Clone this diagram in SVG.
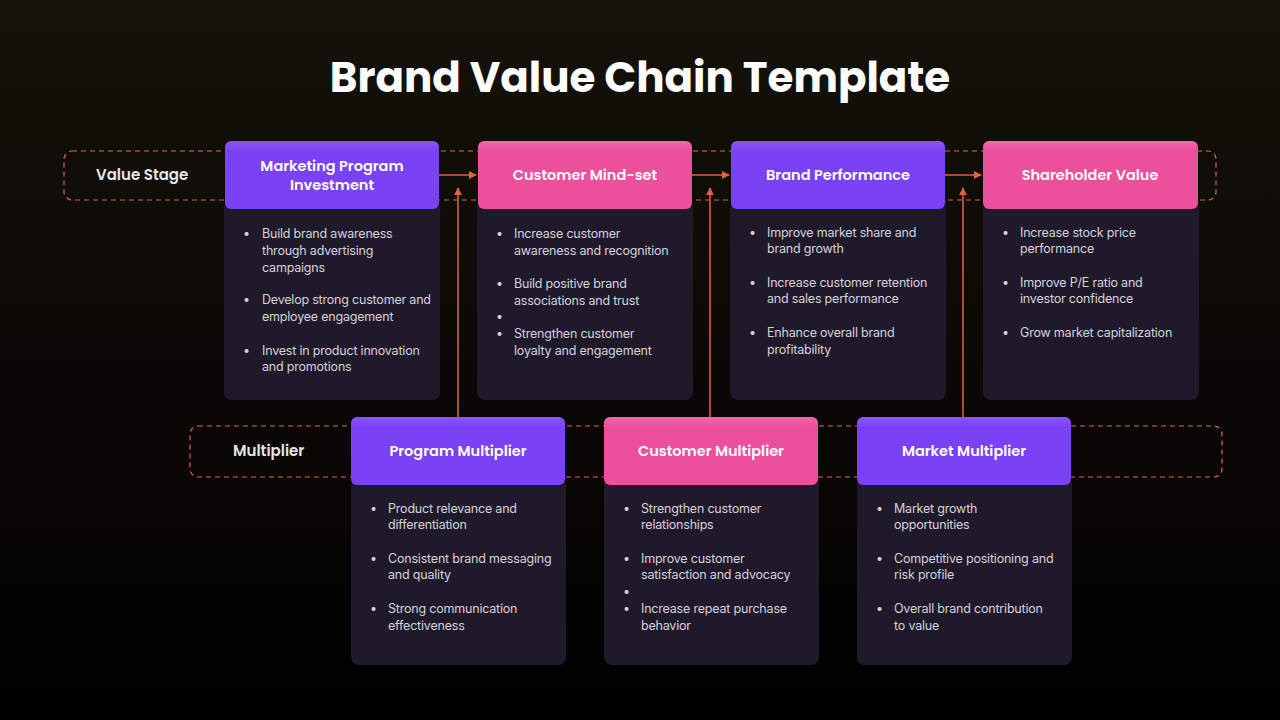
<svg xmlns="http://www.w3.org/2000/svg" width="1280" height="720" viewBox="0 0 1280 720">
<defs>
<linearGradient id="bg" x1="0" y1="0" x2="0" y2="1"><stop offset="0" stop-color="#15120a"/><stop offset="1" stop-color="#000"/></linearGradient>
<linearGradient id="pu" x1="0" y1="0" x2="0" y2="1"><stop offset="0" stop-color="#8a55f7"/><stop offset="0.15" stop-color="#7a42f4"/><stop offset="1" stop-color="#7a42f4"/></linearGradient>
<linearGradient id="pk" x1="0" y1="0" x2="0" y2="1"><stop offset="0" stop-color="#f06aa8"/><stop offset="0.15" stop-color="#ec4f9c"/><stop offset="1" stop-color="#ec4f9c"/></linearGradient>
<marker id="ar" viewBox="0 0 10 10" refX="9" refY="5" markerWidth="8" markerHeight="8" orient="auto-start-reverse" markerUnits="userSpaceOnUse"><path d="M0,0 L10,5 L0,10 z" fill="#e8603a"/></marker>
</defs>
<style>
.band{fill:none;stroke:#e0673f;stroke-width:1.2;stroke-dasharray:5 4}
.body{fill:#1f1a2a}
.ht{font-family:Poppins,"Open Sans","Liberation Sans",sans-serif;font-weight:600;font-size:14.5px;fill:#fff;text-anchor:middle}
.lb{font-family:Poppins,"Open Sans","Liberation Sans",sans-serif;font-weight:600;font-size:15px;fill:#e6e6e6}
.bt{font-family:Inter,"Liberation Sans",sans-serif;font-size:12.5px;fill:#d5d2dc;letter-spacing:-0.2px}
.cn{stroke:#e8603a;stroke-width:1.5;fill:none}
</style>
<rect width="1280" height="720" fill="url(#bg)"/>
<text x="640" y="92" text-anchor="middle" font-family="Poppins,'Open Sans','Liberation Sans',sans-serif" font-weight="700" font-size="42" fill="#fff">Brand Value Chain Template</text>
<rect class="band" x="64" y="151" width="1152" height="49" rx="8"/>
<rect class="band" x="190" y="426" width="1032" height="51" rx="8"/>
<text class="lb" x="96" y="180">Value Stage</text>
<text class="lb" x="233" y="456">Multiplier</text>
<g id="connectors">
<line class="cn" x1="439" y1="175" x2="476" y2="175" marker-end="url(#ar)"/>
<line class="cn" x1="692" y1="175" x2="729" y2="175" marker-end="url(#ar)"/>
<line class="cn" x1="945" y1="175" x2="981" y2="175" marker-end="url(#ar)"/>
<line class="cn" x1="458" y1="417" x2="458" y2="188" marker-end="url(#ar)"/>
<line class="cn" x1="710" y1="417" x2="710" y2="188" marker-end="url(#ar)"/>
<line class="cn" x1="963" y1="417" x2="963" y2="188" marker-end="url(#ar)"/>
</g>
<g id="n1"><rect class="body" x="224" y="200" width="216" height="200" rx="8"/><rect x="225" y="141" width="214" height="68" rx="6" fill="url(#pu)"/>
<text class="ht" x="332" y="171">Marketing Program</text><text class="ht" x="332" y="190">Investment</text>
<text class="bt"><tspan x="243" y="238">•</tspan><tspan x="262" y="238">Build brand awareness</tspan><tspan x="262" y="255">through advertising</tspan><tspan x="262" y="272">campaigns</tspan><tspan x="243" y="304">•</tspan><tspan x="262" y="304">Develop strong customer and</tspan><tspan x="262" y="321">employee engagement</tspan><tspan x="243" y="355">•</tspan><tspan x="262" y="355">Invest in product innovation</tspan><tspan x="262" y="371">and promotions</tspan></text></g>
<g id="n2"><rect class="body" x="477" y="200" width="216" height="200" rx="8"/><rect x="478" y="141" width="214" height="68" rx="6" fill="url(#pk)"/>
<text class="ht" x="585" y="180">Customer Mind-set</text>
<text class="bt"><tspan x="496" y="238">•</tspan><tspan x="514" y="238">Increase customer</tspan><tspan x="514" y="255">awareness and recognition</tspan><tspan x="496" y="288">•</tspan><tspan x="514" y="288">Build positive brand</tspan><tspan x="514" y="305">associations and trust</tspan><tspan x="496" y="321">•</tspan><tspan x="496" y="338">•</tspan><tspan x="514" y="338">Strengthen customer</tspan><tspan x="514" y="355">loyalty and engagement</tspan></text></g>
<g id="n3"><rect class="body" x="730" y="200" width="216" height="200" rx="8"/><rect x="731" y="141" width="214" height="68" rx="6" fill="url(#pu)"/>
<text class="ht" x="838" y="180">Brand Performance</text>
<text class="bt"><tspan x="749" y="237">•</tspan><tspan x="767" y="237">Improve market share and</tspan><tspan x="767" y="253">brand growth</tspan><tspan x="749" y="287">•</tspan><tspan x="767" y="287">Increase customer retention</tspan><tspan x="767" y="303">and sales performance</tspan><tspan x="749" y="337">•</tspan><tspan x="767" y="337">Enhance overall brand</tspan><tspan x="767" y="354">profitability</tspan></text></g>
<g id="n4"><rect class="body" x="983" y="200" width="216" height="200" rx="8"/><rect x="983" y="141" width="215" height="68" rx="6" fill="url(#pk)"/>
<text class="ht" x="1090" y="180">Shareholder Value</text>
<text class="bt"><tspan x="1002" y="237">•</tspan><tspan x="1020" y="237">Increase stock price</tspan><tspan x="1020" y="253">performance</tspan><tspan x="1002" y="287">•</tspan><tspan x="1020" y="287">Improve P/E ratio and</tspan><tspan x="1020" y="303">investor confidence</tspan><tspan x="1002" y="337">•</tspan><tspan x="1020" y="337">Grow market capitalization</tspan></text></g>
<g id="n5"><rect class="body" x="351" y="476" width="215" height="189" rx="8"/><rect x="351" y="417" width="214" height="68" rx="6" fill="url(#pu)"/>
<text class="ht" x="458" y="456">Program Multiplier</text>
<text class="bt"><tspan x="370" y="513">•</tspan><tspan x="388" y="513">Product relevance and</tspan><tspan x="388" y="529">differentiation</tspan><tspan x="370" y="563">•</tspan><tspan x="388" y="563">Consistent brand messaging</tspan><tspan x="388" y="579">and quality</tspan><tspan x="370" y="613">•</tspan><tspan x="388" y="613">Strong communication</tspan><tspan x="388" y="630">effectiveness</tspan></text></g>
<g id="n6"><rect class="body" x="604" y="476" width="215" height="189" rx="8"/><rect x="604" y="417" width="214" height="68" rx="6" fill="url(#pk)"/>
<text class="ht" x="711" y="456">Customer Multiplier</text>
<text class="bt"><tspan x="623" y="513">•</tspan><tspan x="641" y="513">Strengthen customer</tspan><tspan x="641" y="529">relationships</tspan><tspan x="623" y="563">•</tspan><tspan x="641" y="563">Improve customer</tspan><tspan x="641" y="579">satisfaction and advocacy</tspan><tspan x="623" y="596">•</tspan><tspan x="623" y="613">•</tspan><tspan x="641" y="613">Increase repeat purchase</tspan><tspan x="641" y="630">behavior</tspan></text></g>
<g id="n7"><rect class="body" x="857" y="476" width="215" height="189" rx="8"/><rect x="857" y="417" width="214" height="68" rx="6" fill="url(#pu)"/>
<text class="ht" x="964" y="456">Market Multiplier</text>
<text class="bt"><tspan x="876" y="513">•</tspan><tspan x="894" y="513">Market growth</tspan><tspan x="894" y="529">opportunities</tspan><tspan x="876" y="563">•</tspan><tspan x="894" y="563">Competitive positioning and</tspan><tspan x="894" y="579">risk profile</tspan><tspan x="876" y="613">•</tspan><tspan x="894" y="613">Overall brand contribution</tspan><tspan x="894" y="630">to value</tspan></text></g>
</svg>
